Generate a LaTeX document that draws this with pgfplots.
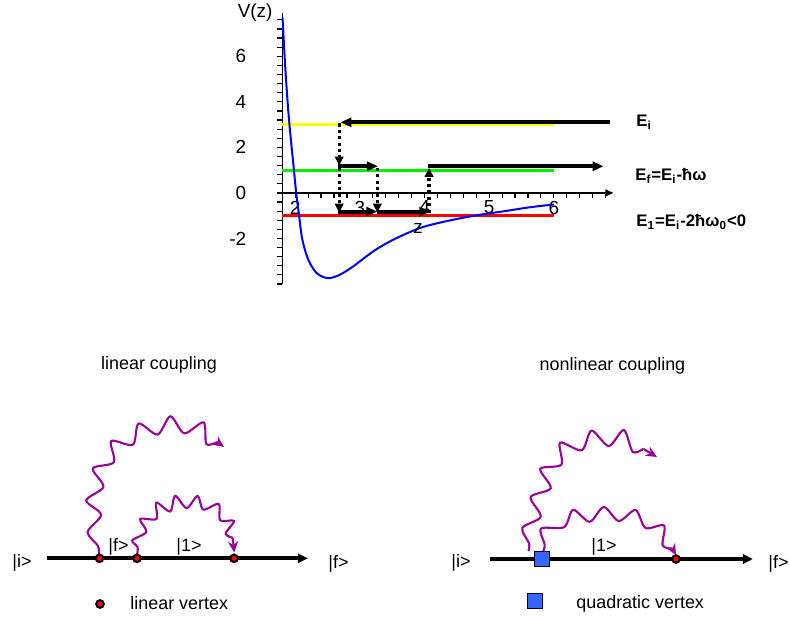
\documentclass[border=0pt]{standalone}
\usepackage{pgfplots}
\pgfplotsset{compat=1.18}
\usepackage{fontspec}
\setmainfont{Liberation Sans}
\usetikzlibrary{arrows.meta}
\definecolor{photon}{RGB}{153,0,153}
\definecolor{sqblue}{RGB}{51,102,255}
\definecolor{lev1}{RGB}{255,255,0}
\definecolor{lev2}{RGB}{0,240,0}
\definecolor{lev3}{RGB}{255,0,0}
\definecolor{curve}{RGB}{0,0,255}
\tikzset{
  wave/.style={photon, line width=1.05bp, smooth},
  whead/.style={photon, line width=1.05bp, -{Stealth[length=5.5bp,width=5bp]}},
  fat/.style={black, line width=2bp, -{Triangle[length=5.5bp,width=4.5bp]}},
  dots/.style={black, line width=1.6bp, dash pattern=on 1.6bp off 1.6bp, -{Triangle[length=4.5bp,width=4.2bp]}},
}
\newcommand{\txt}{\fontsize{9}{11}\selectfont}
\newcommand{\btxt}{\bfseries\fontsize{8.4}{10}\selectfont}
\begin{document}
\begin{tikzpicture}
\useasboundingbox (0,0) rectangle (395bp,309.5bp);
% ---------- overlay in pixel coordinates ----------
\begin{axis}[at={(0,0)}, anchor=south west, scale only axis,
  width=395bp, height=309.5bp, xmin=0, xmax=790, ymin=0, ymax=619,
  y dir=reverse, hide axis, clip=false]
% left diagram
\addplot[black, line width=2bp, -{Triangle[length=5bp,width=4.5bp]}] coordinates {(46.7,558.3)(308,558.3)};
\addplot[wave] coordinates {(99,554)(97.8,545.6)(87.59,532.04)(101.05,514.74)(86.22,500.38)(103.44,486.8)(92.83,468.47)(113.83,462.21)(111.21,441.03)(132.83,444.7)(138.64,423.55)(157.61,434.55)(170.42,416.34)(184.31,433.29)(203.59,422.34)(206.34,444.1)(217.11,442.03)};
\addplot[whead] coordinates {(217.11,442.03)(224,447)};
\addplot[wave] coordinates {(137,555)(137.58,547.04)(132.28,540.35)(146.33,531.93)(140.08,519.06)(156.48,518.86)(156.37,502.61)(170.17,511.45)(175.17,495.85)(186.65,508.05)(197.65,495.91)(203.3,509.61)(218.69,503.97)(220.2,520.29)(233.97,520.91)(225.64,533.53)(232.66,537.76)};
\addplot[whead] coordinates {(232.66,537.76)(234.3,552.5)};
\addplot[only marks, mark=*, mark size=1.9bp, mark options={fill=red, draw=black, line width=1bp}] coordinates {(99.5,558.3)(137,558.3)(234,558.3)(100,604)};
% right diagram
\addplot[black, line width=2bp, -{Triangle[length=5bp,width=4.5bp]}] coordinates {(490,559)(753,559)};
\addplot[wave] coordinates {(528.5,551)(529.1,543.5)(522.32,527.93)(540.7,516.66)(530.67,497.12)(550.71,488.17)(540.27,468.88)(561.43,464.55)(560.14,442.68)(581.75,450.25)(591.57,430.67)(608.8,446)(623.8,430)(632.78,451.93)(643.32,448.88)};
\addplot[whead] coordinates {(643.32,448.88)(657,457)};
\addplot[wave] coordinates {(543,552)(544.66,544.7)(541.16,528.56)(564.21,527.12)(573.09,509.87)(589.78,521.75)(603.8,507)(618.8,521)(635.54,510.0)(645.57,527.94)(664.0,525.51)(662.64,545.38)(672.4,548.54)};
\addplot[whead] coordinates {(672.4,548.54)(676,555)};
\addplot[only marks, mark=*, mark size=1.9bp, mark options={fill=red, draw=black, line width=1bp}] coordinates {(676,559)};
\addplot[only marks, mark=square*, mark size=3.75bp, mark options={fill=sqblue, draw=black, line width=0.5bp}] coordinates {(542,559)(535,600.5)};
% texts
\node[anchor=base, font=\txt] at (axis cs:159,369) {linear coupling};
\node[anchor=base, font=\txt] at (axis cs:612.5,370) {nonlinear coupling};
\node[anchor=base west, font=\txt, inner sep=0] at (axis cs:130,609) {linear vertex};
\node[anchor=base west, font=\txt, inner sep=0] at (axis cs:576,608.5) {quadratic vertex};
\node[anchor=base west, font=\txt, inner sep=0] at (axis cs:12,567) {|i>};
\node[anchor=base west, font=\txt, inner sep=0] at (axis cs:328,568) {|f>};
\node[anchor=base west, font=\txt, inner sep=0] at (axis cs:108,551) {|f>};
\node[anchor=base west, font=\txt, inner sep=0] at (axis cs:176,551) {|1>};
\node[anchor=base west, font=\txt, inner sep=0] at (axis cs:451,567) {|i>};
\node[anchor=base west, font=\txt, inner sep=0] at (axis cs:591,551) {|1>};
\node[anchor=base west, font=\txt, inner sep=0] at (axis cs:768,568) {|f>};
% energy labels
\node[anchor=base west, font=\btxt, inner sep=0] at (axis cs:636,126.7) {E\textsubscript{i}};
\node[anchor=base west, font=\btxt, inner sep=0] at (axis cs:635,180) {E\textsubscript{f}=E\textsubscript{i}-ħω};
\node[anchor=base west, font=\btxt, inner sep=0] at (axis cs:636,226.7) {E\textsubscript{1}=E\textsubscript{i}-2ħω\textsubscript{0}<0};
\end{axis}
% ---------- potential plot ----------
\begin{axis}[at={(141.15bp,167.5bp)}, anchor=south west, scale only axis,
  width=165.5bp, height=135.5bp,
  xmin=1.8, xmax=6.92, ymin=-4, ymax=7.9,
  axis x line=middle, axis y line*=left,
  hide obscured x ticks=false, hide obscured y ticks=false,
  x axis line style={line width=0.7bp, -{Triangle[length=4bp,width=3.5bp]}},
  y axis line style={line width=0.7bp, -},
  xtick={2,3,4,5,6}, ytick={-2,0,2,4,6},
  minor xtick={2.2,2.4,2.6,2.8,3.2,3.4,3.6,3.8,4.2,4.4,4.6,4.8,5.2,5.4,5.6,5.8,6.2,6.4,6.6,6.8},
  minor ytick={-4,-3.6,-3.2,-2.8,-2.4,-1.6,-1.2,-0.8,-0.4,0.4,0.8,1.2,1.6,2.4,2.8,3.2,3.6,4.4,4.8,5.2,5.6,6.4,6.8,7.2,7.6},
  tick align=outside,
  major tick length=2.5bp, minor tick length=2.5bp,
  tick style={black, line width=0.6bp},
  /pgf/number format/assume math mode=true,
  tick label style={font=\fontsize{9.5}{11}\selectfont},
  yticklabel pos=left,
  yticklabel style={anchor=east, xshift=-12bp},
  xticklabel style={anchor=north, yshift=2bp},
  xlabel={z}, ylabel={V(z)},
  every axis x label/.style={at={(axis description cs:0.41,0.205)}, anchor=center, font=\fontsize{9.5}{11}\selectfont},
  every axis y label/.style={at={(axis description cs:-0.082,1.0)}, anchor=center, font=\fontsize{9.5}{11}\selectfont},
  clip=false]
\addplot[lev1, line width=1.5bp] coordinates {(1.8,3)(6,3)};
\addplot[lev2, line width=1.5bp] coordinates {(1.8,1)(6,1)};
\addplot[lev3, line width=1.5bp] coordinates {(1.8,-1)(6,-1)};
\addplot[curve, line width=1bp, smooth] coordinates {(1.804,7.68)(1.845,5.55)(1.887,3.80)(1.923,2.63)(1.974,1.17)(2.015,0.0)(2.06,-1.0)(2.10,-1.9)(2.16,-2.6)(2.23,-3.1)(2.33,-3.52)(2.44,-3.70)(2.54,-3.74)(2.70,-3.58)(2.90,-3.22)(3.21,-2.56)(3.52,-2.05)(3.93,-1.54)(4.34,-1.24)(4.81,-0.98)(5.22,-0.81)(5.63,-0.63)(6.0,-0.51)};
\addplot[fat] coordinates {(6.87,3.1)(2.70,3.1)};
\addplot[dots] coordinates {(2.68,3.05)(2.68,1.2)};
\addplot[dots] coordinates {(2.68,1.1)(2.68,-0.87)};
\addplot[fat] coordinates {(2.66,1.17)(3.28,1.17)};
\addplot[dots] coordinates {(3.27,1.1)(3.27,-0.87)};
\addplot[fat] coordinates {(2.66,-0.82)(3.27,-0.82)};
\addplot[fat] coordinates {(3.27,-0.82)(4.09,-0.82)};
\addplot[dots] coordinates {(4.07,-0.87)(4.07,1.1)};
\addplot[fat] coordinates {(4.05,1.17)(6.77,1.17)};
\end{axis}
\end{tikzpicture}
\end{document}
